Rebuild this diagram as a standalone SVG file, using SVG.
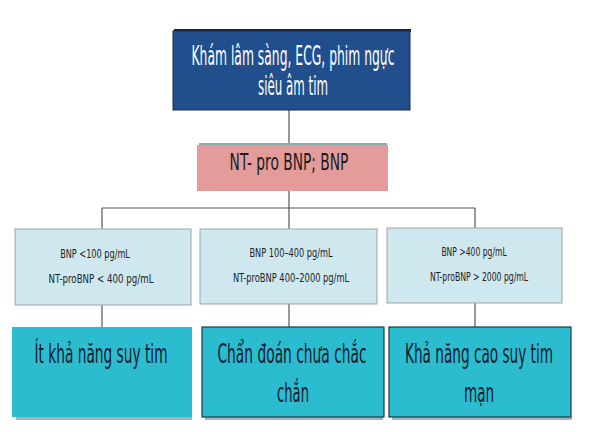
<svg xmlns="http://www.w3.org/2000/svg" width="589" height="432" viewBox="0 0 589 432">
<style>
.t{font-family:"DejaVu Sans Condensed","DejaVu Sans","Liberation Sans",sans-serif;text-anchor:middle}
.big{font-size:26px;fill:#14202e}
.sm{font-size:12.5px;fill:#222}
.ln{stroke:#555;stroke-width:1.2;fill:none}
.lb{fill:#cfe7ee;stroke:#9aa4a8;stroke-width:1}
.cy{fill:#2bbcd0;stroke:#1e3a44;stroke-width:1.2}
.sh{fill:#a9b2b6}
</style>
<rect width="589" height="432" fill="#ffffff"/>
<g id="connectors">
<path class="ln" d="M289 110V145M289 191V208M102 208H475M102 208V230M289 208V229M475 208V228M102 305V327M289 304V327M475 303V327"/>
</g>
<g id="top">
<rect x="174" y="29" width="237" height="3" fill="#1b2433"/>
<rect x="173" y="31" width="237" height="79" fill="#214f8d" stroke="#1b2a45" stroke-width="1"/>
<text class="t" transform="translate(293 65) scale(0.55 1)" font-size="26" fill="#ffffff" textLength="369" lengthAdjust="spacingAndGlyphs">Khám lâm sàng, ECG, phim ngực</text>
<text class="t" transform="translate(293 95) scale(0.55 1)" font-size="26" fill="#ffffff" textLength="127" lengthAdjust="spacingAndGlyphs">siêu âm tim</text>
</g>
<g id="pink">
<rect x="199" y="143" width="188" height="2" fill="#8fa9ac"/>
<rect x="197" y="145" width="191" height="46" fill="#e39c9a"/>
<text class="t" transform="translate(289 170) scale(0.6 1)" font-size="23" fill="#1a1a1a" textLength="198" lengthAdjust="spacingAndGlyphs">NT- pro BNP; BNP</text>
</g>
<g id="b1">
<rect class="lb" x="15" y="229" width="176" height="76"/>
<text class="t sm" transform="translate(95 258) scale(0.75 1)" textLength="93" lengthAdjust="spacingAndGlyphs">BNP &lt;100 pg/mL</text>
<text class="t sm" transform="translate(101 283) scale(0.75 1)" textLength="140" lengthAdjust="spacingAndGlyphs">NT-proBNP &lt; 400 pg/mL</text>
</g>
<g id="b2">
<rect class="lb" x="200" y="229" width="177" height="75"/>
<text class="t sm" transform="translate(291 257) scale(0.75 1)" textLength="111" lengthAdjust="spacingAndGlyphs">BNP 100–400 pg/mL</text>
<text class="t sm" transform="translate(291 282) scale(0.75 1)" textLength="155" lengthAdjust="spacingAndGlyphs">NT-proBNP 400–2000 pg/mL</text>
</g>
<g id="b3">
<rect class="lb" x="387" y="228" width="175" height="75"/>
<text class="t sm" transform="translate(474 256) scale(0.75 1)" textLength="87" lengthAdjust="spacingAndGlyphs">BNP &gt;400 pg/mL</text>
<text class="t sm" transform="translate(479 281) scale(0.75 1)" textLength="131" lengthAdjust="spacingAndGlyphs">NT-proBNP &gt; 2000 pg/mL</text>
</g>
<g id="c1">
<rect class="sh" x="16" y="417" width="176" height="3"/>
<rect x="12" y="327" width="180" height="90" fill="#2bbcd0"/>
<text class="t big" transform="translate(101 363) scale(0.55 1)" textLength="242" lengthAdjust="spacingAndGlyphs">Ít khả năng suy tim</text>
</g>
<g id="c2">
<rect class="sh" x="205" y="417" width="178" height="3"/>
<rect class="cy" x="202" y="327" width="182" height="90"/>
<text class="t big" transform="translate(292 363) scale(0.55 1)" textLength="271" lengthAdjust="spacingAndGlyphs">Chẩn đoán chưa chắc</text>
<text class="t big" transform="translate(293 402) scale(0.55 1)" textLength="58" lengthAdjust="spacingAndGlyphs">chắn</text>
</g>
<g id="c3">
<rect class="sh" x="392" y="417" width="180" height="3"/>
<rect class="cy" x="389" y="327" width="182" height="90"/>
<text class="t big" transform="translate(479 363) scale(0.55 1)" textLength="269" lengthAdjust="spacingAndGlyphs">Khả năng cao suy tim</text>
<text class="t big" transform="translate(479 402) scale(0.55 1)" textLength="55" lengthAdjust="spacingAndGlyphs">mạn</text>
</g>
</svg>
